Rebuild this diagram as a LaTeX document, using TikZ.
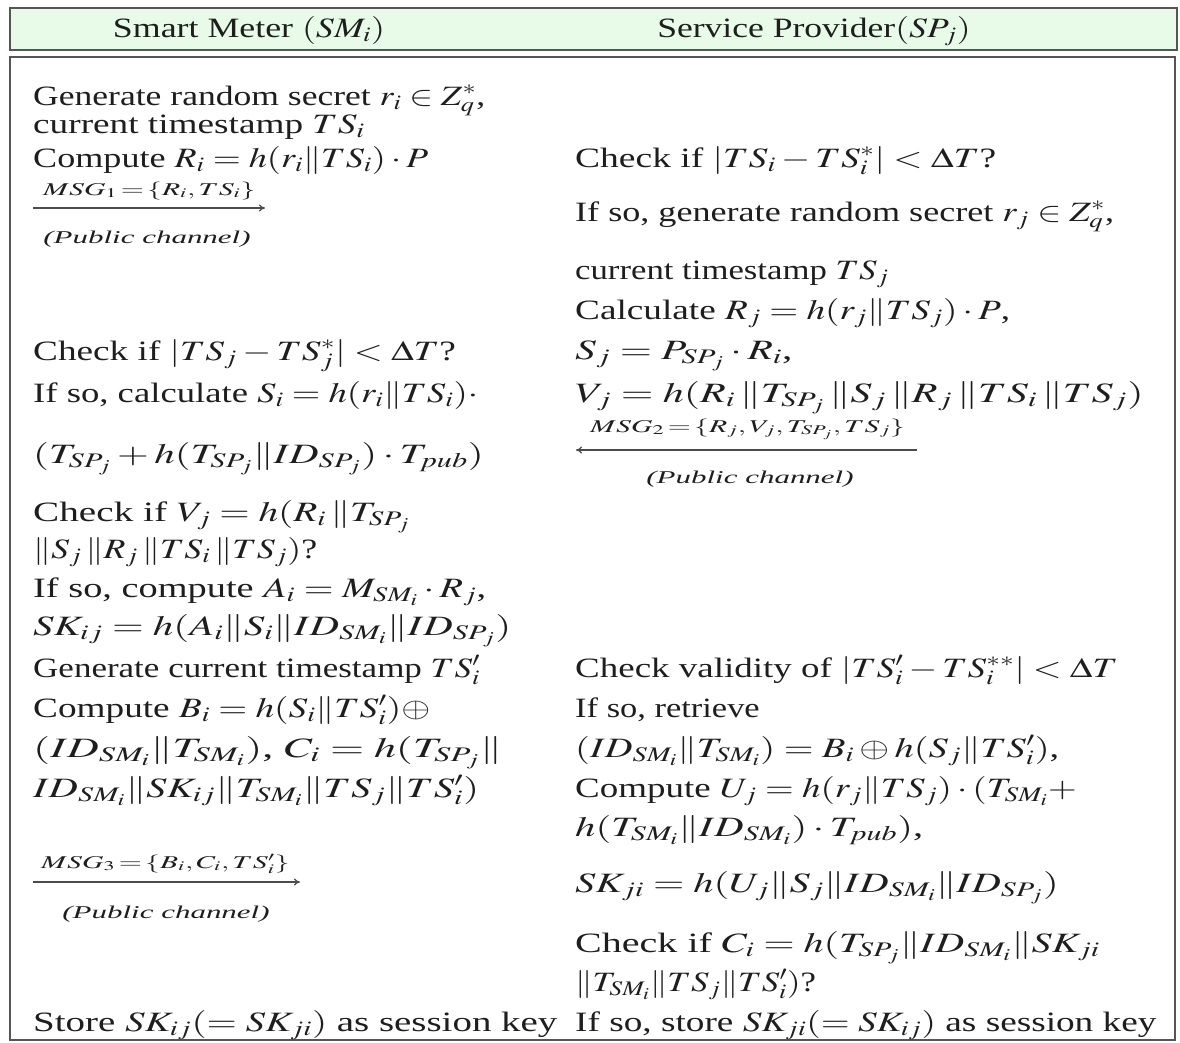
\documentclass[tikz,border=0pt]{standalone}
\usepackage{mathptmx}
\usepackage[no-math]{fontspec}
\setmainfont{Liberation Serif}
\usetikzlibrary{arrows.meta}
\definecolor{hdrfill}{HTML}{E8FBE8}
\definecolor{frame}{HTML}{555555}
\definecolor{ink}{HTML}{1E1E1E}
\newcommand\wx[2]{\scalebox{#1}[1]{#2}}
\begin{document}
\begin{tikzpicture}[x=1pt,y=-1pt,
  every node/.style={text=ink},
  txt/.style={anchor=base west, inner sep=0pt, font=\fontsize{28}{34}\selectfont},
  hdrtxt/.style={anchor=base, inner sep=0pt, font=\fontsize{28}{34}\selectfont},
  msglbl/.style={anchor=base west, inner sep=0pt, font=\fontsize{18}{20}\selectfont},
  publbl/.style={anchor=base, inner sep=0pt, font=\fontsize{18}{20}\selectfont\itshape},
  boxline/.style={draw=frame, line width=2.2pt},
  msgarrow/.style={draw=ink!80, line width=1.2pt, -{To[length=6pt,width=7pt]}}]
\useasboundingbox (0,0) rectangle (1180,1042);
% header
\path[boxline, fill=hdrfill] (10,8) rectangle (1177,50);
\node[hdrtxt] (hsm) at (249,37) {\wx{1.28}{Smart Meter $(SM_i)$}};
\node[hdrtxt] (hsp) at (814,37) {\wx{1.27}{Service Provider$(SP_j)$}};
% body frame
\path[boxline] (10,57) rectangle (1175,1040);
% left column
\node[txt] (l1) at (33,105) {\wx{1.27}{Generate random secret $r_i \in Z_q^*$,}};
\node[txt] (l2) at (33,133) {\wx{1.33}{current timestamp $TS_i$}};
\node[txt] (l3) at (33,167) {\wx{1.29}{Compute $R_i = h(r_i\|TS_i)\cdot P$}};
\node[msglbl] (m1) at (43,195) {\wx{1.65}{$MSG_1\!=\!\{R_i,TS_i\}$}};
\coordinate (a1s) at (33,208);
\coordinate (a1e) at (265,208);
\draw[msgarrow] (a1s) -- (a1e);
\node[publbl] (p1) at (147,243) {\wx{1.72}{(Public channel)}};
\node[txt] (l5) at (33,360) {\wx{1.33}{Check if $|TS_j - TS_j^*| < \Delta T$?}};
\node[txt] (l6) at (33,402) {\wx{1.31}{If so, calculate $S_i = h(r_i\|TS_i)\cdot$}};
\node[txt] (l7) at (33,463) {\wx{1.46}{$(T_{SP_j} + h(T_{SP_j}\|ID_{SP_j})\cdot T_{pub})$}};
\node[txt] (l8) at (33,521) {\wx{1.40}{Check if $V_j = h(R_i\,\|T_{SP_j}$}};
\node[txt] (l9) at (33,558) {\wx{1.28}{$\|S_j\,\|R_j\,\|TS_i\,\|TS_j)$?}};
\node[txt] (l10) at (33,597) {\wx{1.37}{If so, compute $A_i = M_{SM_i}\cdot R_j$,}};
\node[txt] (l11) at (33,635) {\wx{1.46}{$SK_{ij} = h(A_i\|S_i\|ID_{SM_i}\|ID_{SP_j})$}};
\node[txt] (l12) at (33,677) {\wx{1.25}{Generate current timestamp $TS_i'$}};
\node[txt] (l13) at (33,717) {\wx{1.33}{Compute $B_i = h(S_i\|TS_i')\oplus$}};
\node[txt] (l14) at (33,757) {\wx{1.57}{$(ID_{SM_i}\|T_{SM_i})$, $C_i = h(T_{SP_j}\|$}};
\node[txt] (l15) at (33,797) {\wx{1.45}{$ID_{SM_i}\|SK_{ij}\|T_{SM_i}\|TS_j\|TS_i')$}};
\node[msglbl] (m3) at (41,868) {\wx{1.65}{$MSG_3\!=\!\{B_i,C_i,TS_i'\}$}};
\coordinate (a3s) at (33,882);
\coordinate (a3e) at (300,882);
\draw[msgarrow] (a3s) -- (a3e);
\node[publbl] (p3) at (166,918) {\wx{1.72}{(Public channel)}};
\node[txt] (l17) at (33,1031) {\wx{1.39}{Store $SK_{ij}(= SK_{ji})$ as session key}};
% right column
\node[txt] (r1) at (575,167) {\wx{1.34}{Check if $|TS_i - TS_i^*| < \Delta T$?}};
\node[txt] (r2) at (575,221) {\wx{1.29}{If so, generate random secret $r_j \in Z_q^*$,}};
\node[txt] (r3) at (575,279) {\wx{1.24}{current timestamp $TS_j$}};
\node[txt] (r4) at (575,319) {\wx{1.33}{Calculate $R_j = h(r_j\|TS_j)\cdot P$,}};
\node[txt] (r5) at (575,359) {\wx{1.48}{$S_j = P_{SP_j}\cdot R_i$,}};
\node[txt] (r6) at (575,402) {\wx{1.50}{$V_j = h(R_i\,\|T_{SP_j}\,\|S_j\,\|R_j\,\|TS_i\,\|TS_j)$}};
\node[msglbl] (m2) at (590,432) {\wx{1.65}{$MSG_2\!=\!\{R_j,V_j,T_{SP_j},TS_j\}$}};
\coordinate (a2s) at (917,450);
\coordinate (a2e) at (576,450);
\draw[msgarrow] (a2s) -- (a2e);
\node[publbl] (p2) at (750,483) {\wx{1.72}{(Public channel)}};
\node[txt] (r8) at (575,677) {\wx{1.32}{Check validity of $|TS_i' - TS_i^{**}| < \Delta T$}};
\node[txt] (r9) at (575,717) {\wx{1.23}{If so, retrieve}};
\node[txt] (r10) at (575,757) {\wx{1.37}{$(ID_{SM_i}\|T_{SM_i}) = B_i \oplus h(S_j\|TS_i')$,}};
\node[txt] (r11) at (575,797) {\wx{1.32}{Compute $U_j = h(r_j\|TS_j)\cdot(T_{SM_i}+$}};
\node[txt] (r12) at (575,836) {\wx{1.45}{$h(T_{SM_i}\|ID_{SM_i})\cdot T_{pub})$,}};
\node[txt] (r13) at (575,892) {\wx{1.44}{$SK_{ji} = h(U_j\|S_j\|ID_{SM_i}\|ID_{SP_j})$}};
\node[txt] (r14) at (575,952) {\wx{1.43}{Check if $C_i = h(T_{SP_j}\|ID_{SM_i}\|SK_{ji}$}};
\node[txt] (r15) at (575,991) {\wx{1.24}{$\|T_{SM_i}\|TS_j\|TS_i')$?}};
\node[txt] (r16) at (575,1031) {\wx{1.33}{If so, store $SK_{ji}(= SK_{ij})$ as session key}};
\end{tikzpicture}
\end{document}
